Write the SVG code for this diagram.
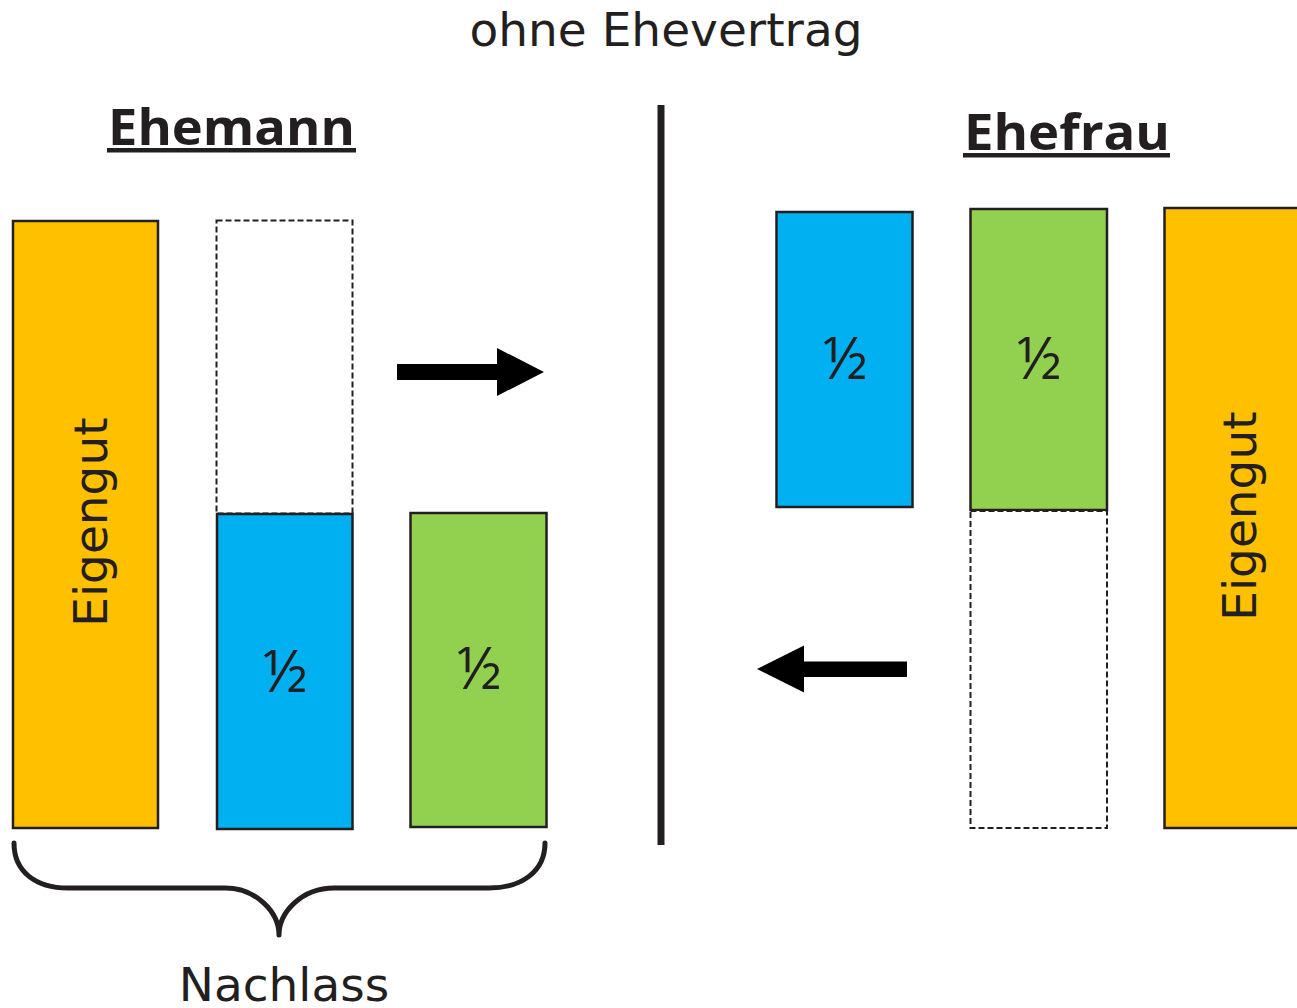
<svg xmlns="http://www.w3.org/2000/svg" width="1297" height="1008" viewBox="0 0 1297 1008">
  <style>
    .box { stroke: #231f20; stroke-width: 2.5; }
    .gold { fill: #FFC000; }
    .blue { fill: #00B0F0; }
    .green { fill: #92D050; }
    .empty { fill: #ffffff; stroke: #231f20; stroke-width: 2; stroke-dasharray: 6 3; }
    .plain { font-family: "DejaVu Sans", Verdana, sans-serif; font-size: 47px; fill: #231f20; }
    .head { font-family: "Open Sans", "Liberation Sans", sans-serif; font-weight: bold; font-size: 51px; fill: #231f20; }
    .half { font-family: "Open Sans", "Liberation Sans", sans-serif; font-size: 58px; fill: #231f20; text-anchor: middle; }
    .arrow { fill: #000000; }
  </style>

  <rect width="1297" height="1008" fill="#ffffff"/>

  <!-- title -->
  <text id="title" class="plain" x="666" y="46" text-anchor="middle">ohne Ehevertrag</text>

  <!-- divider between both spouses -->
  <line id="divider" x1="661" y1="105" x2="661" y2="845" stroke="#231f20" stroke-width="7"/>

  <!-- husband side -->
  <g id="ehemann-header">
    <text class="head" x="108" y="145" textLength="247" lengthAdjust="spacingAndGlyphs">Ehemann</text>
    <rect x="107" y="148" width="249" height="4.5" fill="#231f20"/>
  </g>
  <g id="ehemann-eigengut">
    <rect class="box gold" x="13" y="221" width="145" height="607"/>
    <text class="plain" transform="translate(107 522) rotate(-90)" text-anchor="middle">Eigengut</text>
  </g>
  <g id="ehemann-abgabe">
    <rect class="empty" x="216.5" y="220.5" width="136" height="293"/>
  </g>
  <g id="ehemann-half-blue">
    <rect class="box blue" x="217" y="514" width="135.5" height="315"/>
    <text class="half" x="285" y="692">½</text>
  </g>
  <g id="ehemann-half-green">
    <rect class="box green" x="410.5" y="513" width="136" height="314"/>
    <text class="half" x="479" y="689">½</text>
  </g>
  <g id="nachlass">
    <path d="M14 843 C14 872 36 888 68 888 L225 888 C256 888 279 912 279 935 C279 912 302 888 334 888 L489 888 C521 888 545 872 545 843" fill="none" stroke="#231f20" stroke-width="5" stroke-linecap="round" stroke-linejoin="round"/>
    <text class="plain" x="284" y="1001" text-anchor="middle">Nachlass</text>
  </g>

  <!-- wife side -->
  <g id="ehefrau-header">
    <text class="head" x="964" y="150" textLength="206" lengthAdjust="spacingAndGlyphs">Ehefrau</text>
    <rect x="963" y="153" width="207" height="4.5" fill="#231f20"/>
  </g>
  <g id="ehefrau-half-blue">
    <rect class="box blue" x="776.5" y="212" width="136" height="295"/>
    <text class="half" x="845" y="379">½</text>
  </g>
  <g id="ehefrau-half-green">
    <rect class="box green" x="970.5" y="209" width="136.5" height="301"/>
    <text class="half" x="1039" y="379">½</text>
  </g>
  <g id="ehefrau-abgabe">
    <rect class="empty" x="970.5" y="511" width="136.5" height="317"/>
  </g>
  <g id="ehefrau-eigengut">
    <rect class="box gold" x="1164.5" y="208" width="140" height="620"/>
    <text class="plain" transform="translate(1256 516) rotate(-90)" text-anchor="middle">Eigengut</text>
  </g>

  <!-- transfer arrows -->
  <g id="connectors">
    <polygon class="arrow" points="397,364 497,364 497,348 544,372 497,396 497,380 397,380"/>
    <polygon class="arrow" points="907,661.5 804,661.5 804,645.5 757,669 804,692.5 804,677 907,677"/>
  </g>
</svg>
